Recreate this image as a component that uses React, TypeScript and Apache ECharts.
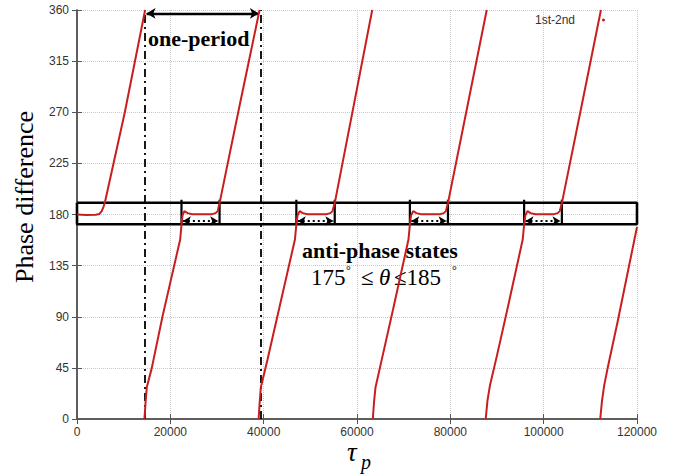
import React, { useEffect, useRef } from "react";
import * as echarts from "echarts";

// ---- data ----
const seriesName = "1st-2nd";
const xMin = 0;
const xMax = 120000;
const xStep = 20000;
const yMin = 0;
const yMax = 360;
const yStep = 45;

// phase difference (deg) vs tau_p, one segment per wrap of the phase
const segment0 = [
  [0, 180], [2000, 179.6], [4000, 179.8], [4800, 180.5], [5300, 183], [5700, 187],
  [6000, 191], [10250, 270], [14600, 360],
];
const segment1 = [
  [14450, 0], [14700, 15], [14960, 28], [16030, 45], [18310, 90], [22110, 158],
  [22390, 171], [22600, 179], [23000, 183], [23700, 181.2], [24700, 180.3],
  [28900, 180.3], [29700, 181.2], [30150, 183], [30550, 190], [34800, 275], [39120, 360],
];
const segment2 = [
  [38920, 0], [39150, 15], [39400, 28], [40800, 52], [43200, 95], [46700, 158],
  [47000, 171], [47250, 179], [47700, 183], [48400, 181.2], [49400, 180.3],
  [53500, 180.3], [54300, 181.2], [54750, 183], [55230, 190], [59250, 275], [63260, 360],
];
const segment3 = [
  [63390, 0], [63650, 15], [63970, 28], [65400, 54], [67700, 96], [71030, 158],
  [71330, 171], [71580, 179], [72030, 183], [72730, 181.2], [73730, 180.3],
  [77800, 180.3], [78600, 181.2], [79050, 183], [79490, 190], [83650, 275], [87800, 360],
];
const segment4 = [
  [87580, 0], [87950, 16], [88510, 30], [90000, 56], [92300, 98], [95510, 158],
  [95810, 171], [96060, 179], [96510, 183], [97210, 181.2], [98210, 180.3],
  [102200, 180.3], [103000, 181.2], [103450, 183], [103900, 190], [108100, 275], [112270, 360],
];
const segment5 = [
  [112120, 0], [112500, 16], [112990, 30], [113700, 44.6], [115870, 86], [120000, 169],
];

// anti-phase state windows
const stateStarts = [22390, 47000, 71330, 95810];
const stateEnds = [30550, 55230, 79490, 103900];
const bandLow = 171.4;
const bandHigh = 190.4;
const bandMarkTop = 193;
const stateArrowLevel = 174.3;

// one-period markers
const periodLines = [14597, 39280];
const periodArrowLevel = 357;

const RED = "#c81e1e";
const AXIS = "#555";
const SERIF = "Liberation Serif";

export default function App() {
  const ref = useRef<HTMLDivElement>(null);

  useEffect(() => {
    document.body.style.margin = "0";
    if (!ref.current) return;
    const chart = echarts.init(ref.current, null, { renderer: "svg" });

    const gap = ["-", "-"];
    const phaseData: any[] = [];
    [segment0, segment1, segment2, segment3, segment4, segment5].forEach((seg, i) => {
      if (i > 0) phaseData.push(gap);
      seg.forEach((p) => phaseData.push(p));
    });

    const bandData = [
      [xMin, bandHigh], [xMax, bandHigh], [xMax, bandLow], [xMin, bandLow], [xMin, bandHigh],
    ];
    const stateEdgeData: any[] = [];
    stateStarts.forEach((s, i) => {
      const e = stateEnds[i];
      stateEdgeData.push([s, bandLow], [s, bandMarkTop], gap, [e, bandLow], [e, bandMarkTop], gap);
    });

    const axisCommon = {
      type: "value" as const,
      axisLine: { show: true, lineStyle: { color: AXIS, width: 1.5 } },
      axisTick: { show: true, inside: true, length: 5, lineStyle: { color: AXIS, width: 1 } },
    };
    const labelStyle = { fontFamily: "Liberation Sans", fontSize: 12, color: "#333" };
    const splitStyle = { show: true, lineStyle: { color: "#c8c8c8", type: "dotted" as const, width: 1 } };

    const txt = (x: number, y: number, text: string, extra: any = {}) => ({
      type: "text",
      x,
      y,
      z: 1,
      style: {
        text,
        fontFamily: SERIF,
        fontSize: 23,
        fill: "#000",
        align: "left",
        verticalAlign: "middle",
        ...extra,
      },
    });

    chart.setOption({
      animation: false,
      grid: { left: 77, right: 47, top: 10, bottom: 55, containLabel: false },
      legend: {
        data: [seriesName],
        right: 79,
        top: 14,
        padding: 0,
        align: "right",
        icon: "circle",
        itemWidth: 3,
        itemHeight: 3,
        textStyle: { fontFamily: "Liberation Sans", fontSize: 12, color: "#333", padding: [0, 22, 0, 0] },
      },
      xAxis: [
        {
          ...axisCommon,
          min: xMin, max: xMax, interval: xStep,
          axisLabel: { ...labelStyle, margin: 7, formatter: (v: number) => String(v) },
          splitLine: splitStyle,
        },
        {
          ...axisCommon,
          position: "top",
          min: xMin, max: xMax, interval: xStep,
          axisLabel: { show: false },
          splitLine: { show: false },
        },
      ],
      yAxis: [
        {
          ...axisCommon,
          min: yMin, max: yMax, interval: yStep,
          axisLabel: { ...labelStyle, margin: 8, formatter: (v: number) => String(v) },
          splitLine: splitStyle,
        },
        {
          ...axisCommon,
          position: "right",
          min: yMin, max: yMax, interval: yStep,
          axisLabel: { show: false },
          splitLine: { show: false },
        },
      ],
      series: [
        {
          name: "anti-phase band",
          type: "line",
          data: bandData,
          showSymbol: false,
          clip: false,
          silent: true,
          z: 3,
          lineStyle: { color: "#000", width: 2.6 },
          markLine: {
            silent: true,
            symbol: ["none", "none"],
            label: { show: false },
            lineStyle: { color: "#000", width: 1.8, type: [8, 4, 2, 4] },
            data: periodLines.map((x) => ({ xAxis: x })),
          },
        },
        {
          name: "state edges",
          type: "line",
          data: stateEdgeData,
          showSymbol: false,
          silent: true,
          z: 3,
          lineStyle: { color: "#000", width: 2.2 },
          markLine: {
            silent: true,
            symbol: ["arrow", "arrow"],
            symbolSize: [7, 8],
            label: { show: false },
            lineStyle: { color: "#000", width: 2.2, type: [2, 3] },
            data: stateStarts.map((s, i) => [
              { coord: [s + 300, stateArrowLevel] },
              { coord: [stateEnds[i] - 300, stateArrowLevel] },
            ]),
          },
        },
        {
          name: "period arrow",
          type: "line",
          data: [],
          silent: true,
          z: 3,
          markLine: {
            silent: true,
            symbol: ["arrow", "arrow"],
            symbolSize: [8, 9],
            label: { show: false },
            lineStyle: { color: "#000", width: 2.4, type: "solid" },
            data: [[
              { coord: [periodLines[0] + 300, periodArrowLevel] },
              { coord: [periodLines[1] - 300, periodArrowLevel] },
            ]],
          },
        },
        {
          name: seriesName,
          type: "line",
          data: phaseData,
          showSymbol: false,
          connectNulls: false,
          z: 5,
          itemStyle: { color: RED },
          lineStyle: { color: RED, width: 2 },
        },
      ],
      graphic: [
        {
          type: "text",
          x: 24,
          y: 197,
          rotation: Math.PI / 2,
          z: 1,
          style: {
            text: "Phase difference",
            fontFamily: SERIF,
            fontSize: 26,
            fill: "#000",
            align: "center",
            verticalAlign: "middle",
          },
        },
        txt(347, 452, "τ", { fontStyle: "italic", fontSize: 27 }),
        txt(361, 462, "p", { fontStyle: "italic", fontSize: 20 }),
        txt(148, 38, "one-period", { fontWeight: "bold", fontSize: 22 }),
        txt(380, 250, "anti-phase states", { fontWeight: "bold", fontSize: 22, align: "center" }),
        txt(311, 277, "175"),
        txt(346, 270, "°", { fontSize: 12 }),
        txt(361, 277, "≤"),
        txt(379, 277, "θ", { fontStyle: "italic" }),
        txt(394, 277, "≤185"),
        txt(452, 270, "°", { fontSize: 12 }),
      ],
    });

    return () => chart.dispose();
  }, []);

  return <div ref={ref} style={{ width: 684, height: 474 }} />;
}
